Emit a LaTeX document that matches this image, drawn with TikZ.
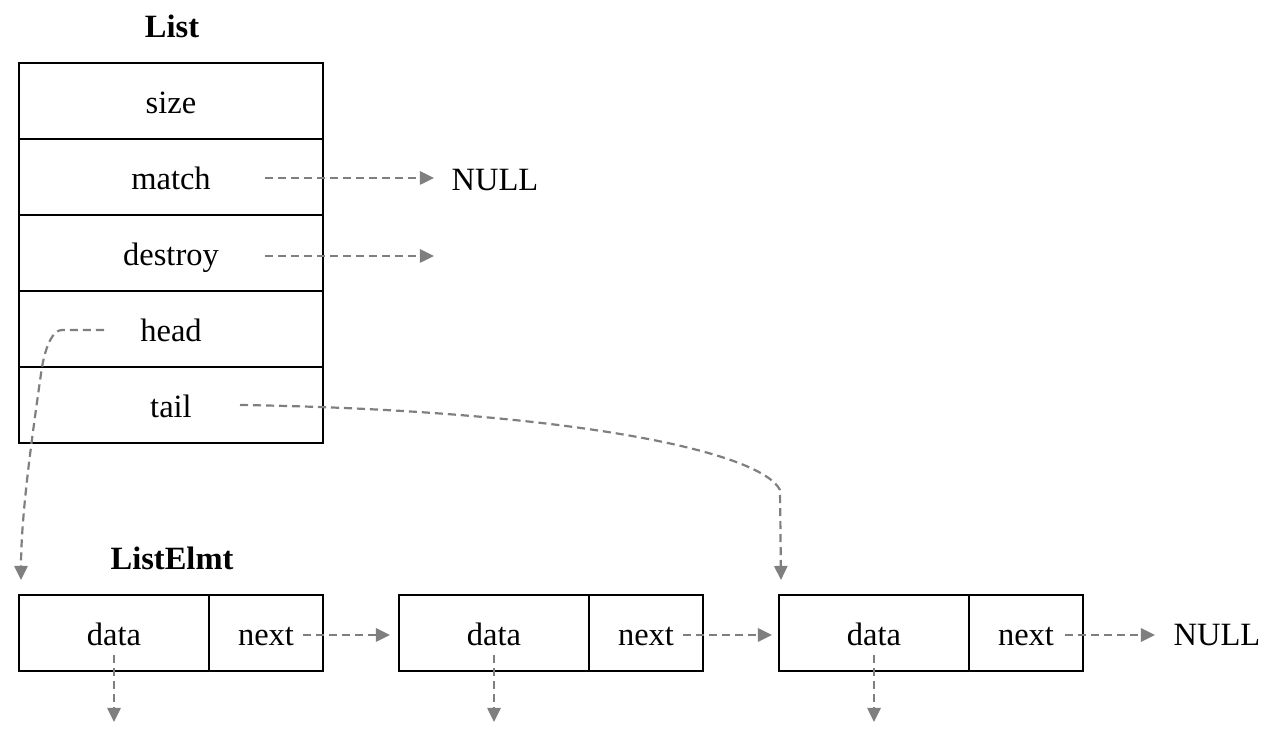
\documentclass[tikz,border=0pt]{standalone}
\usepackage{fontspec}
\setmainfont{Liberation Serif}
\usetikzlibrary{arrows.meta,calc}
\definecolor{ptrgray}{HTML}{7F7F7F}
\begin{document}
\begin{tikzpicture}[x=0.02cm,y=-0.02cm,
  txt/.style={font=\fontsize{18.5}{20}\selectfont,text height=15.5pt,text depth=0.8pt,inner sep=0pt},
  cell/.style={txt,draw=black,line width=0.75pt,minimum height=1.52cm},
  listrow/.style={cell,minimum width=6.08cm},
  datacell/.style={cell,minimum width=3.8cm},
  nextcell/.style={cell,minimum width=2.28cm},
  heading/.style={font=\bfseries\fontsize{18.5}{20}\selectfont,text height=13pt,text depth=2.8pt,inner sep=0pt},
  ptr/.style={draw=ptrgray,line width=1.25pt,dash pattern=on 4.6pt off 2.8pt,
    -{Triangle[length=8pt,width=7.5pt,fill=ptrgray]}}]
\useasboundingbox (0,0) rectangle (1275,732);

% the List structure
\node[heading] (listtitle) at (172,29) {List};
\node[listrow] (size)    at (171,101) {size};
\node[listrow] (match)   at (171,177) {match};
\node[listrow] (destroy) at (171,253) {destroy};
\node[listrow] (head)    at (171,329) {head};
\node[listrow] (tail)    at (171,405) {tail};

\node[txt] (null1) at (495,178) {NULL};
\coordinate (m0) at (265,178);
\coordinate (m1) at (434,178);
\coordinate (d0) at (265,256);
\coordinate (d1) at (434,256);
\draw[ptr] (m0) -- (m1);
\draw[ptr] (d0) -- (d1);

% the list elements
\node[heading] (elmttitle) at (172,561) {ListElmt};
\node[datacell] (data1) at (114,633) {data};
\node[nextcell] (next1) at (266,633) {next};
\node[datacell] (data2) at (494,633) {data};
\node[nextcell] (next2) at (646,633) {next};
\node[datacell] (data3) at (874,633) {data};
\node[nextcell] (next3) at (1026,633) {next};
\node[txt] (null2) at (1217,633) {NULL};

% head and tail pointers
\coordinate (h0) at (104,330);
\coordinate (h1) at (21,580);
\coordinate (t0) at (240,405);
\coordinate (t1) at (781,580);
\draw[ptr] (h0) -- (62,330) .. controls (53,330) and (46,345) .. (42,367)
  .. controls (30,450) and (21,520) .. (h1);
\draw[ptr] (t0) .. controls (560,410) and (760,450) .. (780,490) -- (t1);

% next pointers
\coordinate (n1a) at (303,635);
\coordinate (n1b) at (390,635);
\coordinate (n2a) at (683,635);
\coordinate (n2b) at (772,635);
\coordinate (n3a) at (1065,635);
\coordinate (n3b) at (1155,635);
\draw[ptr] (n1a) -- (n1b);
\draw[ptr] (n2a) -- (n2b);
\draw[ptr] (n3a) -- (n3b);

% data pointers
\foreach \x/\i in {114/1,494/2,874/3}{
  \coordinate (da\i) at (\x,655);
  \coordinate (db\i) at (\x,722);
  \draw[ptr] (da\i) -- (db\i);
}
\end{tikzpicture}
\end{document}
